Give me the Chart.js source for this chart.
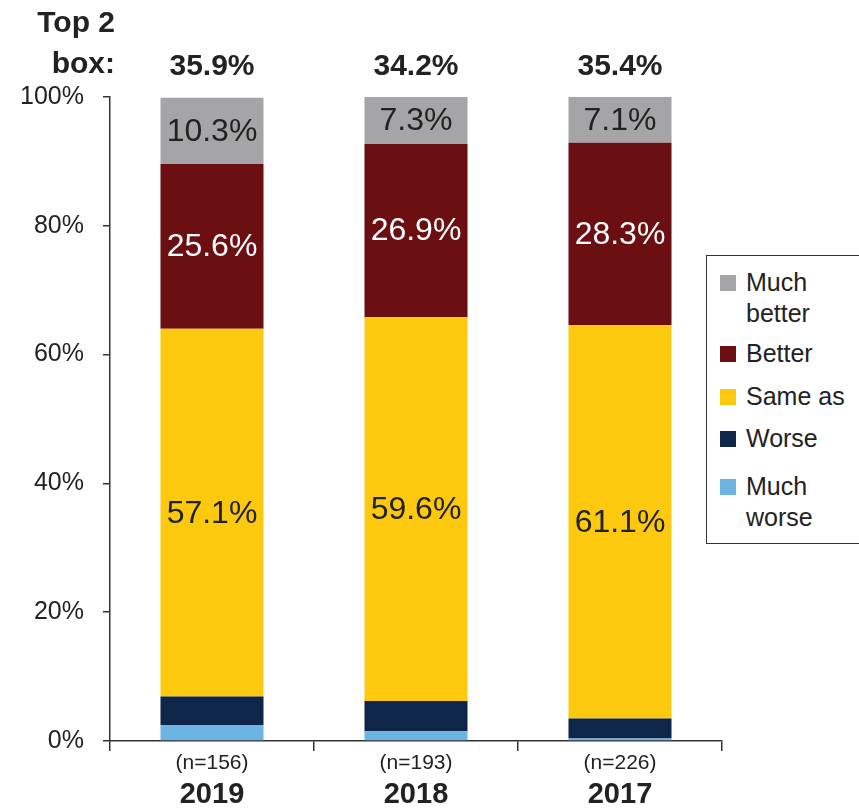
<!DOCTYPE html>
<html>
<head>
<meta charset="utf-8">
<script src="https://cdn.jsdelivr.net/npm/chart.js@4/dist/chart.umd.min.js"></script>
<style>
  html, body { margin: 0; padding: 0; background: #fff; }
  #wrap { position: relative; width: 859px; height: 811px; }
  #legend {
    position: absolute; left: 706px; top: 255px; width: 160px; height: 289px;
    border: 1.5px solid #333; box-sizing: border-box; background: #fff;
    font-family: 'Liberation Sans', Arial, sans-serif; font-size: 25px; color: #222;
  }
  .item { position: absolute; left: 13px; }
  .sw { position: absolute; left: 0; top: 5px; width: 16px; height: 16px; }
  .lbl { position: absolute; left: 26px; top: -3px; line-height: 31px; white-space: nowrap; }
</style>
</head>
<body>
<div id="wrap">
  <canvas id="c"></canvas>
  <div id="legend"></div>
</div>
<script>
// Values (percent of respondents)
const years      = ['2019', '2018', '2017'];
const sampleN    = ['(n=156)', '(n=193)', '(n=226)'];
const muchWorse  = [2.5, 1.5, 0.4];
const worse      = [4.4, 4.7, 3.1];
const sameAs     = [57.1, 59.6, 61.1];
const better     = [25.6, 26.9, 28.3];
const muchBetter = [10.3, 7.3, 7.1];
const yTicks     = [0, 20, 40, 60, 80, 100];

const COLORS = {
  muchBetter: '#a5a5a7',
  better:     '#6b0f12',
  sameAs:     '#fdc90f',
  worse:      '#0e2649',
  muchWorse:  '#6cb4e2',
};
const FONT = "'Liberation Sans', Arial, sans-serif";

// legend (html, multi-line labels)
const legendItems = [
  { text: ['Much', 'better'], color: COLORS.muchBetter, top: 14 },
  { text: ['Better'],         color: COLORS.better,     top: 85 },
  { text: ['Same as'],        color: COLORS.sameAs,     top: 128 },
  { text: ['Worse'],          color: COLORS.worse,      top: 170 },
  { text: ['Much', 'worse'],  color: COLORS.muchWorse,  top: 218 },
];
const legendEl = document.getElementById('legend');
legendItems.forEach(it => {
  const d = document.createElement('div');
  d.className = 'item';
  d.style.top = it.top + 'px';
  d.innerHTML = '<div class="sw" style="background:' + it.color + '"></div>' +
    '<div class="lbl">' + it.text.join('<br>') + '</div>';
  legendEl.appendChild(d);
});

const labelPlugin = {
  id: 'labels',
  afterDatasetsDraw(chart) {
    const ctx = chart.ctx;
    const x = chart.scales.x;
    ctx.save();
    ctx.textAlign = 'center';
    ctx.textBaseline = 'middle';

    // segment labels for the three biggest groups
    [2, 3, 4].forEach(di => {
      const meta = chart.getDatasetMeta(di);
      const color = di === 3 ? '#fff' : '#222';
      meta.data.forEach((bar, i) => {
        const v = chart.data.datasets[di].data[i];
        const cy = (bar.y + bar.base) / 2;
        ctx.fillStyle = color;
        ctx.font = '32px ' + FONT;
        ctx.fillText(v.toFixed(1) + '%', bar.x, cy + 1);
      });
    });

    // top 2 box totals
    ctx.fillStyle = '#222';
    ctx.font = 'bold 30px ' + FONT;
    years.forEach((yr, i) => {
      const tot = better[i] + muchBetter[i];
      ctx.fillText(tot.toFixed(1) + '%', x.getPixelForValue(i), 67);
    });
    ctx.textAlign = 'right';
    ctx.fillText('Top 2', 115, 24);
    ctx.fillText('box:', 115, 65);

    // x labels
    ctx.textAlign = 'center';
    years.forEach((yr, i) => {
      const px = x.getPixelForValue(i);
      ctx.font = '21px ' + FONT;
      ctx.fillText(sampleN[i], px, 763);
      ctx.font = 'bold 29px ' + FONT;
      ctx.fillText(yr, px, 795);
    });
    ctx.restore();
  }
};

new Chart(document.getElementById('c'), {
  type: 'bar',
  data: {
    labels: years,
    datasets: [
      { label: 'Much worse',  data: muchWorse,  backgroundColor: COLORS.muchWorse },
      { label: 'Worse',       data: worse,      backgroundColor: COLORS.worse },
      { label: 'Same as',     data: sameAs,     backgroundColor: COLORS.sameAs },
      { label: 'Better',      data: better,     backgroundColor: COLORS.better },
      { label: 'Much better', data: muchBetter, backgroundColor: COLORS.muchBetter },
    ],
  },
  options: {
    responsive: true,
    maintainAspectRatio: false,
    animation: false,
    layout: { padding: { top: 97, right: 137, left: 0, bottom: 0 } },
    datasets: { bar: { barPercentage: 1, categoryPercentage: 0.505, borderWidth: 0 } },
    plugins: { legend: { display: false }, tooltip: { enabled: false } },
    scales: {
      x: {
        stacked: true,
        afterFit: s => { s.height = 70; },
        border: { color: '#333', width: 1.5 },
        grid: {
          offset: true,
          drawOnChartArea: false,
          tickLength: 10,
          color: '#333',
          lineWidth: 1.5,
        },
        ticks: { display: false },
      },
      y: {
        stacked: true,
        min: 0,
        max: 100,
        afterFit: s => { s.width = 110; },
        afterBuildTicks: s => { s.ticks = yTicks.map(v => ({ value: v })); },
        border: { color: '#333', width: 1.5 },
        grid: { drawOnChartArea: false, tickLength: 7, color: '#333', lineWidth: 1.5 },
        ticks: {
          color: '#222',
          padding: 19,
          font: { family: FONT, size: 25 },
          callback: v => v + '%',
        },
      },
    },
  },
  plugins: [labelPlugin],
});
</script>
</body>
</html>
